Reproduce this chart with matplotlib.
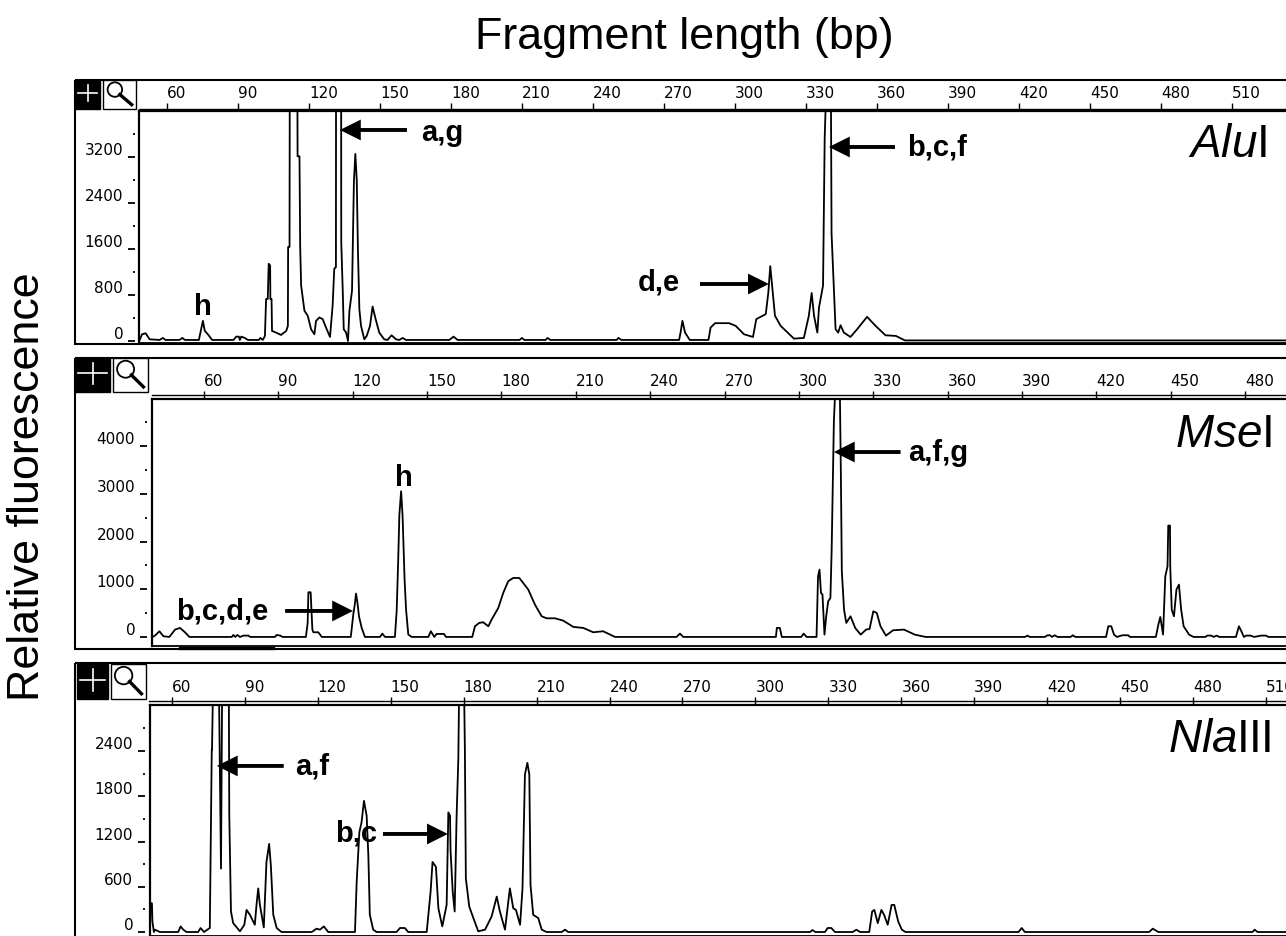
#!/usr/bin/env python3
# -*- coding: utf-8 -*-
"""
Electropherograms of fragment lengths for three restriction enzymes
"""

import matplotlib
matplotlib.use('Agg')
import matplotlib.pyplot as plt
from matplotlib.patches import Rectangle, Circle

plt.rcParams['font.family'] = ['Liberation Sans', 'DejaVu Sans']
plt.rcParams['mathtext.fontset'] = 'custom'
plt.rcParams['mathtext.rm'] = 'Liberation Sans'
plt.rcParams['mathtext.it'] = 'Liberation Sans:italic'

#%% ===========================================================================
# Data read from the picture : (fragment length in bp, fluorescence)
# Peaks running off the top of a panel are given a value above the panel
# =============================================================================
alu_trace = [
    (48.5, 18), (49.5, 117), (51, 134), (52.7, 29), (56.9, 18), (58.3, 53), (59.4, 18),
    (65.3, 18), (66.5, 53), (67.6, 18), (73.5, 18), (74.3, 175), (75.2, 350), (76, 175),
    (77.3, 117), (79.1, 18), (88.1, 18), (89.3, 76), (90.4, 76), (90.8, 18), (91.4, 76),
    (92.9, 53), (94.2, 18), (98.8, 18), (99.5, 53), (100.5, 18), (101.4, 88), (101.9, 730),
    (102.6, 730), (103, 1343), (103.6, 1314), (103.7, 730), (104.2, 730), (104.4, 175),
    (106.1, 146), (108.2, 105), (110.4, 175), (111.1, 263), (111.2, 1635), (111.8, 1635),
    (111.9, 4600), (115.1, 4600), (115.2, 3212), (116, 3212), (116.3, 1635), (116.7, 964),
    (118.1, 526), (119.5, 438), (120.9, 204), (122.3, 117), (123, 350), (124.4, 409),
    (125.8, 380), (127.2, 234), (128.9, 70), (130, 613), (130.7, 1256), (131.4, 1285),
    (131.45, 4600), (133.6, 4600), (133.65, 1723), (134.3, 847), (134.7, 204), (135.7, 146),
    (136.5, 0), (137.1, 526), (138.2, 876), (138.5, 1606), (139, 2774), (139.6, 3253),
    (140.2, 2803), (140.7, 1577), (141.3, 555), (142, 263), (143.4, 29), (144.4, 88),
    (145.8, 263), (146.9, 600), (148, 409), (149.7, 146), (151.8, 29), (153.2, 18),
    (154.9, 99), (156.8, 29), (158.2, 18), (159.6, 53), (161, 18), (179.3, 18), (181.1, 76),
    (182.8, 18), (209, 18), (210, 53), (211, 18), (220, 18), (220.8, 53), (222, 18),
    (250, 18), (250.8, 53), (252, 18), (276.4, 18), (277, 146), (277.8, 350), (278.9, 146),
    (280.9, 18), (288.8, 18), (289.7, 234), (291.6, 310), (297.5, 310), (300.3, 263),
    (303.8, 117), (307.6, 70), (309, 380), (313, 467), (314.1, 847), (314.9, 1302),
    (315.8, 905), (316.9, 438), (319.3, 263), (324.9, 41), (329.1, 53), (331.2, 438),
    (332.4, 835), (333.4, 438), (334.8, 146), (335.5, 584), (337.2, 964), (337.9, 3533),
    (338.7, 4600), (340.5, 4600), (340.8, 1869), (341.8, 905), (342.5, 204), (343.6, 146),
    (344.6, 274), (346, 146), (348.8, 70), (351.6, 204), (355.8, 420), (359.4, 263),
    (363.6, 99), (368, 88), (371.8, 10), (532.8, 10),
]

mse_trace = [
    (39.3, 0), (40.2, 28), (42, 119), (43.6, 14), (46, 0), (48.3, 154), (50.3, 189),
    (52.3, 98), (54.1, 0), (71.2, 0), (71.8, 42), (72.6, 0), (73.4, 42), (74.5, 0),
    (75.9, 28), (77.9, 28), (78.6, 0), (88.6, 0), (89.3, 42), (90.7, 28), (91.7, 0),
    (101.1, 0), (101.8, 294), (102.1, 937), (103, 937), (103.7, 154), (104.1, 98),
    (106.1, 98), (107.5, 0), (119.2, 0), (120.2, 468), (120.9, 713), (121.3, 909),
    (121.9, 713), (122.5, 433), (123.6, 189), (124.9, 0), (131, 0), (131.9, 70), (133, 0),
    (137, 0), (137.7, 538), (138.3, 1552), (138.8, 2565), (139.5, 3055), (140.1, 2530),
    (140.9, 1202), (141.5, 573), (142.4, 49), (143.8, 0), (150.5, 0), (151.5, 119),
    (152.9, 0), (153.8, 63), (156.8, 63), (157.6, 0), (168.2, 0), (169.3, 224), (171, 294),
    (172.6, 308), (174.7, 224), (176, 363), (178.7, 608), (180.7, 923), (182.7, 1167),
    (184.7, 1237), (187.2, 1237), (190.8, 993), (193.5, 678), (196.2, 433), (198.2, 391),
    (201.6, 391), (204.9, 342), (209, 210), (213, 189), (217, 98), (221, 119), (225.8, 0),
    (250.6, 0), (252, 70), (253.3, 0), (290.7, 0), (291.1, 189), (292.3, 189), (293.1, 0),
    (300.9, 0), (301.9, 70), (303.1, 0), (307.1, 0), (307.7, 1272), (308.3, 1412),
    (308.9, 923), (309.5, 888), (310.3, 49), (311, 433), (311.8, 748), (312.7, 818),
    (313.2, 1831), (314.1, 4523), (315, 5600), (316.4, 5600), (316.9, 3509), (317.3, 1377),
    (318.2, 573), (319.1, 294), (320.8, 433), (322.7, 189), (324.9, 49), (327.1, 154),
    (328.5, 168), (330, 538), (331.4, 503), (332.9, 224), (335.1, 28), (338, 140),
    (342.4, 154), (346.7, 49), (351.1, 0), (391.2, 0), (392.2, 28), (393.1, 0), (399.2, 0),
    (400.3, 35), (401.3, 35), (402.1, 0), (403.2, 35), (404.3, 0), (409.6, 0), (410.5, 35),
    (411.5, 0), (423.9, 0), (424.8, 224), (426, 224), (427.1, 49), (428.3, 0), (430.5, 35),
    (432.9, 35), (433.5, 0), (444, 0), (445, 259), (445.8, 419), (446.9, 49), (447.8, 1272),
    (448.7, 1482), (449, 2335), (449.7, 2335), (449.8, 1482), (450.4, 573), (451.3, 433),
    (452.3, 992), (453.3, 1097), (454.2, 573), (455.2, 224), (457.4, 49), (459.2, 0),
    (464, 0), (464.7, 28), (466.4, 28), (467.3, 0), (468.5, 28), (469.6, 0), (476.3, 0),
    (477.5, 224), (478.5, 119), (479.5, 0), (480.4, 28), (482.2, 28), (483.6, 0),
    (486.5, 28), (488.3, 28), (489.5, 0), (497, 0),
]

nla_trace = [
    (51, 0), (51.2, 381), (51.8, 381), (52, 140), (52.6, 0), (53, 31), (55.1, 0), (62.6, 0),
    (63.6, 74), (64.7, 31), (66, 0), (70.8, 0), (71.8, 53), (73.2, 0), (75.6, 53),
    (76.4, 2418), (76.5, 2418), (77, 3400), (79.3, 3400), (80.2, 841), (80.7, 3400),
    (83.4, 3400), (83.6, 1564), (84.3, 272), (85.2, 118), (88, 9), (89.8, 96), (90.7, 293),
    (92.1, 228), (94.1, 96), (94.8, 359), (95.5, 578), (96.2, 359), (96.9, 228), (97.8, 61),
    (98.9, 929), (100, 1169), (100.7, 885), (101.7, 228), (103.1, 53), (105.1, 0),
    (117.5, 0), (119.5, 44), (120.9, 31), (122.5, 74), (124.3, 0), (135.3, 0), (136, 666),
    (137.1, 1323), (138, 1454), (139, 1739), (140.1, 1542), (140.8, 1016), (141.4, 228),
    (142.8, 31), (144.2, 0), (152.4, 0), (153.8, 53), (155.8, 53), (157.2, 0), (164.8, 0),
    (166.4, 534), (167.2, 929), (168.6, 863), (169.6, 315), (171.2, 74), (173, 359),
    (173.7, 1586), (174.4, 1542), (174.6, 1082), (175.5, 534), (176.3, 272), (177.1, 1542),
    (177.8, 2286), (178.2, 3400), (180.1, 3400), (180.5, 2418), (180.9, 710), (182.3, 337),
    (184, 184), (186, 9), (188.8, 31), (191.5, 206), (193.6, 469), (194.9, 272), (197, 31),
    (199, 578), (200.4, 315), (201.5, 293), (203.2, 96), (204.2, 578), (205.2, 2089),
    (206.2, 2243), (207, 2089), (207.5, 622), (208.6, 228), (210.7, 184), (212.1, 31),
    (214.1, 0), (220.3, 0), (221.7, 31), (223, 0), (322.5, 0), (323.4, 26), (324.7, 0),
    (328.6, 0), (329.7, 53), (331.2, 53), (332.7, 0), (340, 0), (341.5, 31), (343, 0),
    (346.8, 0), (348, 272), (348.9, 293), (350.3, 118), (351.8, 293), (352.9, 228),
    (354.4, 96), (356, 359), (357.1, 359), (358.7, 140), (360.2, 31), (361.7, 0),
    (408.2, 0), (409.5, 53), (410.8, 0), (461.9, 0), (463.4, 44), (465.7, 0), (504.4, 0),
    (505.3, 31), (506.5, 0), (519, 0),
]

alu_xticks = [60, 90, 120, 150, 180, 210, 240, 270, 300, 330, 360, 390, 420, 450, 480, 510]
mse_xticks = [60, 90, 120, 150, 180, 210, 240, 270, 300, 330, 360, 390, 420, 450, 480]
nla_xticks = [60, 90, 120, 150, 180, 210, 240, 270, 300, 330, 360, 390, 420, 450, 480, 510]
alu_yticks = [0, 800, 1600, 2400, 3200]
mse_yticks = [0, 1000, 2000, 3000, 4000]
nla_yticks = [0, 600, 1200, 1800, 2400]

W, H = 1286, 937


#%% ===========================================================================
# Helpers
# =============================================================================
def add_panel(left, top, bottom, xlim, ylim, xticks, yticks, gap):
    ax = fig.add_axes([left / W, 1 - bottom / H, (W - left) / W, (bottom - top) / H])
    ax.patch.set_alpha(0)
    ax.set_xlim(*xlim)
    ax.set_ylim(*ylim)
    for s in ['right', 'bottom', 'left']:
        ax.spines[s].set_visible(False)
    ax.spines['top'].set_linewidth(1.6)
    # y ticks stand a little away from the plot edge
    ax.spines['left'].set_position(('outward', gap * 0.72))
    ax.axvline(xlim[0], color='k', lw=1.6, clip_on=False)
    ax.axhline(ylim[0], color='k', lw=1.3, clip_on=False)

    ax.set_xticks(xticks)
    ax.tick_params(axis='x', top=True, labeltop=True, bottom=False, labelbottom=False,
                   length=6, width=1, pad=2, labelsize=11, labelfontfamily='DejaVu Sans')
    for lab in ax.get_xticklabels():
        lab.set_ha('left')

    step = yticks[1] - yticks[0]
    ax.set_yticks(yticks)
    ax.set_yticks([v + step / 2 for v in yticks], minor=True)
    ax.tick_params(axis='y', which='major', length=5, width=1.3, pad=3.5,
                   labelsize=11, labelfontfamily='DejaVu Sans')
    ax.tick_params(axis='y', which='minor', length=1.5, width=1.3)
    for lab in ax.get_yticklabels():
        lab.set_va('bottom')
    return ax


def plot_trace(ax, trace):
    bp, rfu = zip(*trace)
    ax.plot(bp, rfu, color='k', lw=1.3)


def arrow(ax, tail, tip, y):
    ax.annotate('', xy=(tip, y), xytext=(tail, y),
                arrowprops=dict(facecolor='k', edgecolor='k', width=2.8, headwidth=15,
                                headlength=15, shrink=0, lw=0))


def letters(ax, x, y, s, ha='left'):
    ax.text(x, y, s, fontsize=21, fontweight='bold', ha=ha, va='center', color='k')


def icons(px, py, w, h, mx, mw):
    # black plus box and magnifier of the program window
    bg.add_patch(Rectangle((px, py), w, h, facecolor='k', edgecolor='k'))
    bg.plot([px + w / 2] * 2, [py + 5, py + h - 8], color='w', lw=1.2)
    bg.plot([px + 3, px + w - 3], [py + h / 2 - 2] * 2, color='w', lw=1.2)
    bg.add_patch(Rectangle((mx, py), mw, h, facecolor='w', edgecolor='k', lw=1))
    cx, cy = mx + mw * 0.36, py + h * 0.33
    bg.add_patch(Circle((cx, cy), h * 0.25, facecolor='w', edgecolor='k', lw=1.3))
    bg.plot([cx + h * 0.17, mx + mw * 0.87], [cy + h * 0.17, py + h * 0.85], color='k', lw=2.4)


#%% ===========================================================================
# Figure
# =============================================================================
fig = plt.figure(figsize=(W / 100, H / 100), dpi=100)
bg = fig.add_axes([0, 0, 1, 1])
bg.set_xlim(0, W)
bg.set_ylim(H, 0)
bg.axis('off')

# window frames and second line of the header
for y0, y1 in [(81, 345), (359, 650), (664, 945)]:
    bg.add_patch(Rectangle((75, y0), W, y1 - y0, facecolor='none', edgecolor='k', lw=1.5))
bg.plot([139, W], [110, 110], color='k', lw=1)
bg.plot([152, W], [396, 396], color='k', lw=1)
bg.plot([149, W], [702, 702], color='k', lw=1)
bg.plot([180, 273], [648.5, 648.5], color='k', lw=2.4)
icons(75, 81, 25, 29, 103, 33)
icons(75, 359, 35, 34, 113, 35)
icons(77, 665, 31, 35, 111, 35)

# AluI
ax1 = add_panel(139, 112, 344, (48.2, 532.8), (-35, 4000), alu_xticks, alu_yticks, 4)
plot_trace(ax1, alu_trace)
arrow(ax1, 161.4, 133.1, 3670)
letters(ax1, 167.3, 3635, 'a,g')
arrow(ax1, 367.6, 339.7, 3374)
letters(ax1, 372.6, 3374, 'b,c,f')
arrow(ax1, 285.2, 314.3, 991)
letters(ax1, 276.7, 1026, 'd,e', ha='right')
letters(ax1, 75.2, 609, 'h', ha='center')
ax1.text(525, 3426, r'$\mathit{Alu}\mathrm{I}$', fontsize=33, ha='right', va='center')

# MseI
ax2 = add_panel(152, 400, 647, (39, 496.5), (-190, 4990), mse_xticks, mse_yticks, 5)
plot_trace(ax2, mse_trace)
arrow(ax2, 92.7, 120.1, 545)
letters(ax2, 85.8, 545, 'b,c,d,e', ha='right')
letters(ax2, 140.7, 3354, 'h', ha='center')
arrow(ax2, 341, 314.1, 3878)
letters(ax2, 344, 3878, 'a,f,g')
ax2.text(490.8, 4256, r'$\mathit{Mse}\mathrm{I}$', fontsize=33, ha='right', va='center')

# NlaIII
ax3 = add_panel(150, 706, 937, (51, 518.2), (-53, 3010), nla_xticks, nla_yticks, 5)
plot_trace(ax3, nla_trace)
arrow(ax3, 106, 78.5, 2202)
letters(ax3, 110.6, 2202, 'a,f')
arrow(ax3, 146.8, 173.5, 1300)
letters(ax3, 144.3, 1313, 'b,c', ha='right')
ax3.text(512, 2560, r'$\mathit{Nla}\mathrm{III}$', fontsize=33, ha='right', va='center')

fig.text(684 / W, 1 - 37 / H, 'Fragment length (bp)', fontsize=32.3, ha='center', va='center')
fig.text(28 / W, 1 - 487 / H, 'Relative fluorescence', fontsize=32.3, rotation=90,
         ha='center', va='center')

fig.savefig('out.png', dpi=100)
